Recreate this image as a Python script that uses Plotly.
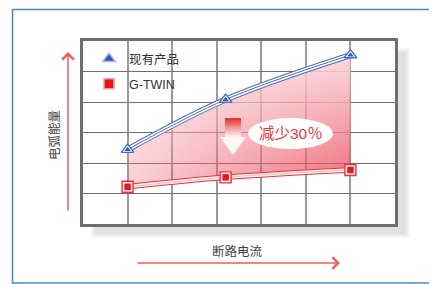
import plotly.graph_objects as go

# ---- data ----
current = [1, 3.2, 6]              # breaking current (x positions on the grid)
existing = [2.44, 4.08, 5.54]      # 现有产品 arc energy
gtwin = [1.22, 1.53, 1.77]         # G-TWIN arc energy
series_names = ["现有产品", "G-TWIN"]
x_title = "断路电流"
y_title = "电弧能量"
callout = "减少30％"

# page body has an 8px margin; figure is laid out in reference-pixel terms
OFF = 8
W, H = 437, 284 - OFF
L, R, T, B = 83, 395, 41, 224   # plot area in reference pixels


def px(x):
    return (x - L) / (R - L)


def py(y):
    return (B - y) / (B - T)


BLUE = "#4c6bc3"
RED = "#e8323c"
FONT = "Liberation Sans, Noto Sans CJK SC, sans-serif"

fig = go.Figure()

# gradient fill between the two series
fig.add_trace(go.Scatter(x=current, y=gtwin, mode="lines", line=dict(width=0, shape="spline"),
                         showlegend=False, hoverinfo="skip"))
fig.add_trace(go.Scatter(x=current, y=existing, mode="lines", line=dict(width=0, shape="spline"),
                         fill="tonexty",
                         fillgradient=dict(type="horizontal",
                                           colorscale=[[0, "rgba(232,45,65,0.22)"], [1, "rgba(232,45,65,0.7)"]]),
                         showlegend=False, hoverinfo="skip"))
fig.add_trace(go.Scatter(x=current, y=gtwin, mode="lines", line=dict(width=0, shape="spline"),
                         showlegend=False, hoverinfo="skip"))
fig.add_trace(go.Scatter(x=current, y=existing, mode="lines", line=dict(width=0, shape="spline"),
                         fill="tonexty",
                         fillgradient=dict(type="vertical",
                                           colorscale=[[0, "rgba(255,255,255,0)"], [1, "rgba(255,255,255,0.75)"]]),
                         showlegend=False, hoverinfo="skip"))

# existing product line (layered blue / white)
for w, c in [(6, BLUE), (4, "white"), (1, BLUE)]:
    fig.add_trace(go.Scatter(x=current, y=existing, mode="lines", line=dict(width=w, color=c, shape="spline"),
                             showlegend=False, hoverinfo="skip"))
# G-TWIN line (layered red / white)
for w, c in [(5.5, RED), (3.5, "#fff4f4"), (1, "#f7b6b8")]:
    fig.add_trace(go.Scatter(x=current, y=gtwin, mode="lines", line=dict(width=w, color=c, shape="spline"),
                             showlegend=False, hoverinfo="skip"))

# markers
fig.add_trace(go.Scatter(x=current, y=existing, mode="markers",
                         marker=dict(symbol="triangle-up", size=11, color="white", line=dict(color=BLUE, width=1.4)),
                         showlegend=False, hoverinfo="skip"))
fig.add_trace(go.Scatter(x=current, y=existing, mode="markers",
                         marker=dict(symbol="triangle-up", size=5.5, color="#3457b4", line=dict(width=0)),
                         showlegend=False, hoverinfo="skip"))
fig.add_trace(go.Scatter(x=current, y=gtwin, mode="markers",
                         marker=dict(symbol="square", size=11, color="#fff0f0", line=dict(color=RED, width=1.4)),
                         showlegend=False, hoverinfo="skip"))
fig.add_trace(go.Scatter(x=current, y=gtwin, mode="markers",
                         marker=dict(symbol="square", size=6.5, color="#e8141e", line=dict(width=0)),
                         showlegend=False, hoverinfo="skip"))

# legend entries
fig.add_trace(go.Scatter(x=[None], y=[None], mode="markers", name=series_names[0], legend="legend",
                         marker=dict(symbol="triangle-up", size=11, color="#3a5cb8",
                                     line=dict(color="#a8b8e6", width=1.5))))
fig.add_trace(go.Scatter(x=[None], y=[None], mode="markers", name=series_names[1], legend="legend2",
                         marker=dict(symbol="square", size=10, color="#e8141e",
                                     line=dict(color="#f4a0a4", width=1.5))))

shapes = []
# outer blue frame
shapes.append(dict(type="rect", xref="paper", yref="paper", x0=px(12.5), x1=px(470), y0=py(283), y1=py(9.5),
                   line=dict(color="#4a86c8", width=1.5), fillcolor="rgba(0,0,0,0)", layer="below"))
# drop shadow of the chart frame
for (dx, a) in [(0, 0.04), (2, 0.04), (4, 0.04)]:
    shapes.append(dict(type="rect", xref="paper", yref="paper", x0=px(91 + dx), x1=px(410 - dx),
                       y0=py(238 - dx), y1=py(48 + dx), line=dict(width=0),
                       fillcolor=f"rgba(0,0,0,{a})", layer="below"))
# white plotting surface over the shadow
shapes.append(dict(type="rect", xref="paper", yref="paper", x0=0, x1=1, y0=0, y1=1,
                   line=dict(width=0), fillcolor="white", layer="below"))
# callout ellipse
shapes.append(dict(type="circle", xref="paper", yref="paper", x0=px(248), x1=px(333), y0=py(149), y1=py(118),
                   line=dict(width=0), fillcolor="white", layer="above"))
# down arrow (gradient shaft)
n = 10
for i in range(n):
    t = i / (n - 1)
    r = 232 + (255 - 232) * t
    g = 52 + (235 - 52) * t
    b = 52 + (235 - 52) * t
    y0 = 118 + i * (137 - 118) / n
    y1 = 118 + (i + 1) * (137 - 118) / n + 0.3
    shapes.append(dict(type="rect", xref="paper", yref="paper", x0=px(225), x1=px(241),
                       y0=py(y1), y1=py(y0), line=dict(width=0),
                       fillcolor=f"rgb({r:.0f},{g:.0f},{b:.0f})", layer="above"))
shapes.append(dict(type="path", xref="paper", yref="paper",
                   path=f"M {px(220)},{py(137)} L {px(246)},{py(137)} L {px(233)},{py(155)} Z",
                   line=dict(width=0), fillcolor="rgba(255,246,246,1)", layer="above"))

annotations = []
annotations.append(dict(text=callout, x=px(291), y=py(133), xref="paper", yref="paper", showarrow=False,
                        font=dict(family=FONT, size=15.5, color="#e8383d"), xanchor="center", yanchor="middle"))
annotations.append(dict(text=y_title, x=px(55), y=py(135), xref="paper", yref="paper", showarrow=False,
                        textangle=-90, font=dict(family=FONT, size=12.5, color="#444"),
                        xanchor="center", yanchor="middle"))
annotations.append(dict(text=x_title, x=px(237.5), y=py(251), xref="paper", yref="paper", showarrow=False,
                        font=dict(family=FONT, size=12.5, color="#444"), xanchor="center", yanchor="middle"))
# axis arrows
annotations.append(dict(text="", x=px(68), y=py(52), xref="paper", yref="paper", ax=0, ay=160,
                        showarrow=True, arrowhead=4, arrowsize=1.5, arrowwidth=1.5, arrowcolor="#ef5a64"))
annotations.append(dict(text="", x=px(340), y=py(263), xref="paper", yref="paper", ax=-204, ay=0,
                        showarrow=True, arrowhead=4, arrowsize=1.5, arrowwidth=1.5, arrowcolor="#ef5a64"))

fig.update_layout(
    width=W, height=H,
    margin=dict(l=L - OFF, r=W - (R - OFF), t=T - OFF, b=H - (B - OFF)),
    paper_bgcolor="white", plot_bgcolor="white",
    shapes=shapes, annotations=annotations,
    legend=dict(x=px(89), y=py(44), xanchor="left", yanchor="top", bgcolor="rgba(0,0,0,0)",
                font=dict(family=FONT, size=12.5, color="#333")),
    legend2=dict(x=px(89), y=py(69), xanchor="left", yanchor="top", bgcolor="rgba(0,0,0,0)",
                 font=dict(family=FONT, size=12.5, color="#333")),
    xaxis=dict(range=[0, 7], dtick=1, tick0=0, showticklabels=False, ticks="", zeroline=False,
               showgrid=True, gridcolor="#9a9a9a", gridwidth=1.5,
               showline=True, mirror=True, linecolor="#6e6e6e", linewidth=3, fixedrange=True),
    yaxis=dict(range=[0, 6], dtick=1, tick0=0, showticklabels=False, ticks="", zeroline=False,
               showgrid=True, gridcolor="#6e6e6e", gridwidth=1,
               showline=True, mirror=True, linecolor="#6e6e6e", linewidth=3, fixedrange=True),
)

fig.write_html("out.html")
